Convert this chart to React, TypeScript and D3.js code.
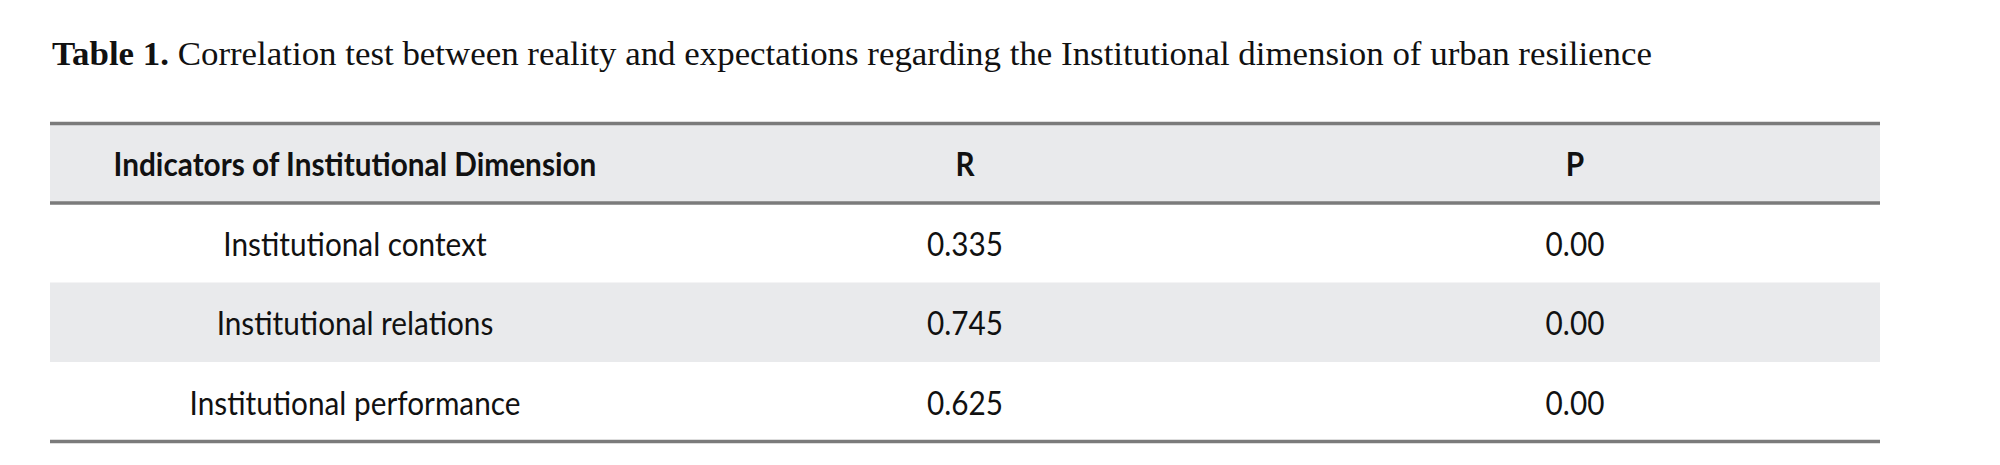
import React, { useEffect, useRef } from 'react';
import * as d3 from 'd3';

// table content
const titleLabel = 'Table 1.';
const titleText = 'Correlation test between reality and expectations regarding the Institutional dimension of urban resilience';
const columns = ['Indicators of Institutional Dimension', 'R', 'P'];
const indicators = ['Institutional context', 'Institutional relations', 'Institutional performance'];
const rValues = ['0.335', '0.745', '0.625'];
const pValues = ['0.00', '0.00', '0.00'];

const App: React.FC = () => {
    const ref = useRef<SVGSVGElement | null>(null);

    useEffect(() => {
        if (!ref.current) return;
        const width = 2000;
        const height = 465;
        const left = 50;
        const right = 1880;
        const top = 123.5;
        const rowH = 79.5;
        const titleWidth = 1600;
        const sansFont = 'Lato, "Open Sans", sans-serif';
        const condense = 0.93; // width correction for substitute font

        const svg = d3.select(ref.current);
        svg.selectAll('*').remove();
        svg.attr('width', width).attr('height', height);

        svg.append('rect').attr('width', width).attr('height', height).attr('fill', '#fff');

        // title
        const title = svg.append('text')
            .attr('x', 52)
            .attr('y', 64.5)
            .style('font-family', '"Liberation Serif", "Times New Roman", serif')
            .style('font-size', '33.5px')
            .style('fill', '#111');
        title.append('tspan').style('font-weight', 'bold').text(titleLabel);
        title.append('tspan').text(' ' + titleText);
        title.attr('textLength', titleWidth).attr('lengthAdjust', 'spacingAndGlyphs');

        const x = d3.scaleBand<number>()
            .domain(d3.range(columns.length))
            .range([left, right]);

        const rows = indicators.map((d, i) => [d, rValues[i], pValues[i]]);

        const y = d3.scaleBand<number>()
            .domain(d3.range(rows.length + 1))
            .range([top, top + rowH * (rows.length + 1)]);

        // header and striped row backgrounds
        svg.selectAll('rect.bg')
            .data([0, 2])
            .enter()
            .append('rect')
            .attr('class', 'bg')
            .attr('x', left)
            .attr('y', d => y(d)!)
            .attr('width', right - left)
            .attr('height', y.bandwidth())
            .attr('fill', '#e9eaec');

        // rules
        const rules = [y(0)!, y(1)!, y(rows.length)! + y.bandwidth()];
        svg.selectAll('line.rule')
            .data(rules)
            .enter()
            .append('line')
            .attr('class', 'rule')
            .attr('x1', left)
            .attr('x2', right)
            .attr('y1', d => d)
            .attr('y2', d => d)
            .attr('stroke', '#7b7b7b')
            .attr('stroke-width', 3.5);

        // header text
        svg.selectAll('text.head')
            .data(columns)
            .enter()
            .append('text')
            .attr('class', 'head')
            .attr('x', (d, i) => x(i)! + x.bandwidth() / 2)
            .attr('y', y(0)! + y.bandwidth() / 2 + 13)
            .attr('text-anchor', 'middle')
            .style('font-family', sansFont)
            .style('font-weight', 'bold')
            .style('font-size', '32px')
            .style('fill', '#111')
            .text(d => d);

        // body cells
        rows.forEach((row, r) => {
            svg.selectAll(`text.cell${r}`)
                .data(row)
                .enter()
                .append('text')
                .attr('class', `cell${r}`)
                .attr('x', (d, i) => x(i)! + x.bandwidth() / 2)
                .attr('y', y(r + 1)! + y.bandwidth() / 2 + 13)
                .attr('text-anchor', 'middle')
                .style('font-family', sansFont)
                .style('font-size', '32px')
                .style('fill', '#111')
                .text(d => d);
        });

        // narrow the substitute sans font toward the original's width
        svg.selectAll<SVGTextElement, string>('text.head, text[class^="cell"]').each(function () {
            const w = this.getComputedTextLength();
            d3.select(this).attr('textLength', w * condense).attr('lengthAdjust', 'spacingAndGlyphs');
        });
    }, []);

    return <svg ref={ref} style={{ position: 'absolute', left: 0, top: 0 }} />;
};

export default App;
